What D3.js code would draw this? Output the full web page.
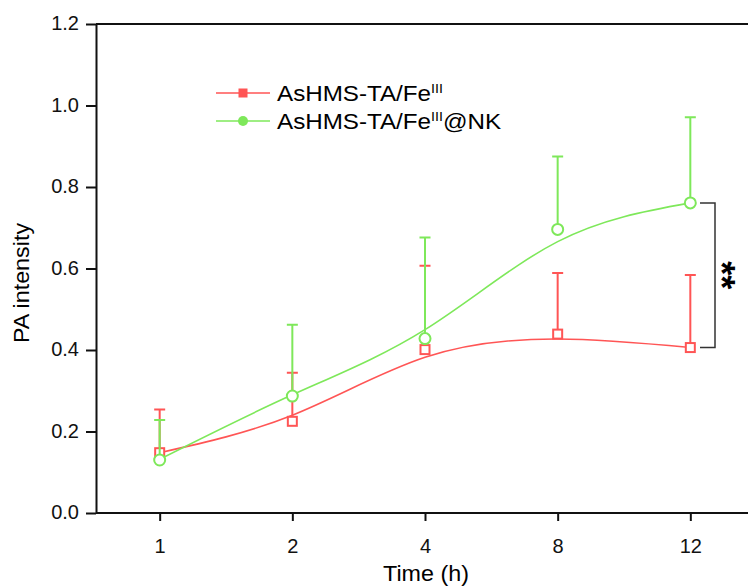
<!DOCTYPE html>
<html lang="en">
<head>
<meta charset="UTF-8">
<title>PA intensity</title>
<script src="https://cdn.jsdelivr.net/npm/d3@7"></script>
<style>
  body { margin: 0; background: #fff; }
  text { font-family: "Liberation Sans", Arial, sans-serif; }
</style>
</head>
<body>
<script>
// data
var times = ["1", "2", "4", "8", "12"];
var redMean = [0.148, 0.225, 0.401, 0.439, 0.406];
var redErr = [0.106, 0.119, 0.206, 0.150, 0.178];
var greenMean = [0.130, 0.287, 0.428, 0.696, 0.761];
var greenErr = [0.098, 0.175, 0.248, 0.179, 0.210];
// fitted curves, value at each time
var redFit = [0.148, 0.240, 0.382, 0.427, 0.406];
var greenFit = [0.132, 0.290, 0.450, 0.666, 0.761];
var yTicks = [0, 0.2, 0.4, 0.6, 0.8, 1.0, 1.2];

var width = 748, height = 586;
var padLeft = 96, padTop = 24, padBottom = 513;
var red = "#ff5555", green = "#7ee85a";

var svg = d3.select("body").append("svg")
    .attr("width", width)
    .attr("height", height);

var x = d3.scalePoint()
    .domain(times)
    .range([padLeft, 754])
    .padding(0.48);

var y = d3.scaleLinear()
    .domain([0, 1.2])
    .range([padBottom, padTop]);

// axes
var gx = svg.append("g")
    .attr("transform", "translate(0," + padBottom + ")")
    .call(d3.axisBottom(x).tickSize(8).tickSizeOuter(0).tickPadding(18));
gx.select(".domain").attr("d", "M" + padLeft + ",0H" + width);

var gy = svg.append("g")
    .attr("transform", "translate(" + padLeft + ",0)")
    .call(d3.axisLeft(y).tickValues(yTicks).tickFormat(d3.format(".1f"))
        .tickSize(10).tickSizeOuter(0).tickPadding(7));

svg.selectAll(".tick text")
    .attr("font-size", 20)
    .attr("font-family", "Liberation Sans, Arial, sans-serif")
    .attr("fill", "#111");
gy.selectAll(".tick text").attr("dy", "0.28em");
svg.selectAll(".domain, .tick line").attr("stroke", "#111").attr("stroke-width", 2);

// top frame line
svg.append("line")
    .attr("x1", padLeft).attr("x2", width)
    .attr("y1", y(1.2)).attr("y2", y(1.2))
    .attr("stroke", "#111").attr("stroke-width", 2);

// axis titles
svg.append("text")
    .attr("transform", "translate(426,581) scale(1.06,1)")
    .attr("text-anchor", "middle")
    .attr("font-size", 22)
    .text("Time (h)");

svg.append("text")
    .attr("transform", "translate(29,283) rotate(-90) scale(1.06,1)")
    .attr("text-anchor", "middle")
    .attr("font-size", 22)
    .text("PA intensity");

function drawSeries(mean, err, fit, color, shape) {
    var g = svg.append("g");
    var line = d3.line()
        .x(function (d, i) { return x(times[i]); })
        .y(function (d) { return y(d); })
        .curve(d3.curveNatural);
    g.append("path")
        .datum(fit)
        .attr("d", line)
        .attr("fill", "none")
        .attr("stroke", color)
        .attr("stroke-width", 1.6);

    // one-sided error bars (upwards)
    g.selectAll(".err")
        .data(mean)
        .enter()
        .append("path")
        .attr("d", function (d, i) {
            var cx = x(times[i]), y0 = y(d), y1 = y(d + err[i]);
            return "M" + cx + "," + y0 + "V" + y1 + "M" + (cx - 5.5) + "," + y1 + "H" + (cx + 5.5);
        })
        .attr("fill", "none")
        .attr("stroke", color)
        .attr("stroke-width", 2);

    if (shape === "square") {
        g.selectAll(".mk")
            .data(mean)
            .enter()
            .append("rect")
            .attr("x", function (d, i) { return x(times[i]) - 4.5; })
            .attr("y", function (d) { return y(d) - 4.5; })
            .attr("width", 9).attr("height", 9)
            .attr("fill", "#fff")
            .attr("stroke", color)
            .attr("stroke-width", 2);
    } else {
        g.selectAll(".mk")
            .data(mean)
            .enter()
            .append("circle")
            .attr("cx", function (d, i) { return x(times[i]); })
            .attr("cy", function (d) { return y(d); })
            .attr("r", 5.5)
            .attr("fill", "#fff")
            .attr("stroke", color)
            .attr("stroke-width", 2);
    }
}

drawSeries(redMean, redErr, redFit, red, "square");
drawSeries(greenMean, greenErr, greenFit, green, "circle");

// legend
var legend = [
    {color: red, shape: "square", main: "AsHMS-TA/Fe", sup: "III", tail: "", y: 93},
    {color: green, shape: "circle", main: "AsHMS-TA/Fe", sup: "III", tail: "@NK", y: 121}
];
legend.forEach(function (d) {
    svg.append("line")
        .attr("x1", 216).attr("x2", 270)
        .attr("y1", d.y).attr("y2", d.y)
        .attr("stroke", d.color).attr("stroke-width", 1.6);
    if (d.shape === "square") {
        svg.append("rect")
            .attr("x", 238.5).attr("y", d.y - 4.5)
            .attr("width", 9).attr("height", 9)
            .attr("fill", d.color);
    } else {
        svg.append("circle")
            .attr("cx", 243).attr("cy", d.y).attr("r", 5)
            .attr("fill", d.color);
    }
    var t = svg.append("text")
        .attr("transform", "translate(277," + (d.y + 7.5) + ") scale(1.1,1)")
        .attr("font-size", 22);
    t.append("tspan").text(d.main);
    t.append("tspan").attr("font-size", 13).attr("dy", -8).text(d.sup);
    if (d.tail) t.append("tspan").attr("dy", 8).text(d.tail);
});

// significance bracket
var bx = 715, bTop = y(greenMean[4]), bBot = y(redMean[4]);
svg.append("path")
    .attr("d", "M700," + bTop + "H" + bx + "V" + bBot + "H700")
    .attr("fill", "none")
    .attr("stroke", "#333")
    .attr("stroke-width", 1.5);

svg.append("text")
    .attr("transform", "translate(729," + ((bTop + bBot) / 2) + ") rotate(90)")
    .attr("y", 20)
    .attr("text-anchor", "middle")
    .attr("font-size", 36)
    .attr("font-weight", "bold")
    .text("**");
</script>
</body>
</html>
